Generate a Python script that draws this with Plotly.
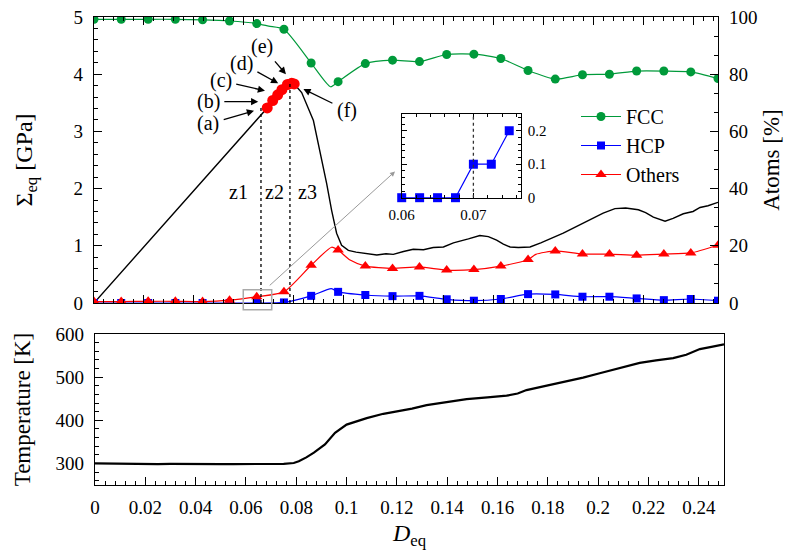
import plotly.graph_objects as go

# ---------------- data ----------------
# strain positions of the plotted symbols (every few data points)
D_MARK = [0.0, 0.0109, 0.0217, 0.0326, 0.0435, 0.0543, 0.0652, 0.0761, 0.0870, 0.0978,
          0.1087, 0.1196, 0.1304, 0.1413, 0.1522, 0.1630, 0.1739, 0.1848, 0.1957, 0.2065,
          0.2174, 0.2283, 0.2391, 0.2500]
FCC = [99.2, 99.2, 99.2, 99.2, 99.0, 98.6, 97.7, 95.7, 83.9, 77.4,
       83.7, 84.9, 84.4, 86.9, 87.0, 85.5, 81.3, 78.3, 79.8, 80.0,
       81.1, 81.1, 80.8, 78.5]
HCP = [0.0, 0.0, 0.0, 0.0, 0.0, 0.0, 0.0, 0.2, 2.5, 3.9,
       2.8, 2.4, 2.5, 1.3, 0.8, 1.4, 3.1, 3.0, 2.2, 2.2,
       1.6, 1.0, 1.4, 0.8]
OTHERS = [0.5, 0.5, 0.6, 0.6, 0.5, 1.0, 2.2, 3.9, 13.2, 18.5,
          12.9, 12.1, 12.6, 11.5, 11.7, 12.9, 15.2, 18.2, 17.1, 17.1,
          16.7, 17.1, 17.5, 20.2]
# additional points of the lines between the symbols
FCC_EXTRA_D = [0.0700, 0.0948]
FCC_EXTRA = [96.8, 75.6]
HCP_EXTRA_D = [0.0951]
HCP_EXTRA = [5.0]
OTH_EXTRA_D = [0.0952, 0.1026, 0.1770]
OTH_EXTRA = [19.5, 15.0, 17.0]

# equivalent stress [GPa]
STRESS_D = [0.0, 0.0694, 0.0716, 0.0736, 0.0753, 0.0775, 0.0792, 0.0802, 0.0832, 0.0879,
            0.0905, 0.0932, 0.0952, 0.0972, 0.0992, 0.1019, 0.1050, 0.1092, 0.1133, 0.1170,
            0.1199, 0.1240, 0.1279, 0.1320, 0.1359, 0.1400, 0.1440, 0.1500, 0.1546, 0.1580,
            0.1613, 0.1640, 0.1667, 0.1700, 0.1747, 0.1790, 0.1840, 0.1880, 0.1934, 0.2000,
            0.2040, 0.2087, 0.2130, 0.2181, 0.2210, 0.2241, 0.2288, 0.2320, 0.2361, 0.2400,
            0.2428, 0.2460, 0.2500]
STRESS = [0.0, 3.41, 3.54, 3.64, 3.73, 3.82, 3.84, 3.83, 3.68, 3.19,
          2.67, 2.09, 1.62, 1.22, 1.01, 0.92, 0.89, 0.87, 0.84, 0.86,
          0.85, 0.90, 0.94, 0.93, 0.97, 0.98, 1.05, 1.12, 1.18, 1.16,
          1.10, 1.03, 0.98, 0.97, 0.98, 1.05, 1.14, 1.22, 1.34, 1.48,
          1.57, 1.65, 1.66, 1.63, 1.58, 1.50, 1.43, 1.48, 1.56, 1.60,
          1.67, 1.70, 1.76]

# states (a)-(f)
STATE_D = [0.0694, 0.0716, 0.0736, 0.0753, 0.0775, 0.0792, 0.0802]
STATE_S = [3.41, 3.54, 3.64, 3.73, 3.82, 3.84, 3.83]
STATE_LABELS = ["(a)", "(b)", "(c)", "(d)", "(e)", "(f)"]

# zone boundaries and labels
Z_BOUND_D = [0.0669, 0.0785]
Z_BOUND_TOP = [3.41, 3.84]
Z_LABELS = ["z1", "z2", "z3"]
Z_LABEL_D = [0.0577, 0.0725, 0.0856]

# inset: HCP fraction around HCP onset
INSET_D = [0.060, 0.0625, 0.065, 0.0675, 0.070, 0.0725, 0.075]
INSET_HCP = [0.0, 0.0, 0.0, 0.0, 0.1, 0.1, 0.2]
INSET_ONSET = 0.070

# temperature [K]
TEMP_D = [0.0, 0.005, 0.01, 0.015, 0.02, 0.025, 0.03, 0.035, 0.04, 0.045, 0.05, 0.055,
          0.06, 0.065, 0.07, 0.075, 0.079, 0.081, 0.084, 0.087, 0.0914, 0.0954, 0.1,
          0.104, 0.108, 0.1146, 0.1205, 0.1260, 0.1318, 0.1400, 0.1477, 0.1560, 0.1636,
          0.1680, 0.1715, 0.1800, 0.1874, 0.1940, 0.2006, 0.2080, 0.2165, 0.2230, 0.2298,
          0.2350, 0.2404, 0.2450, 0.2500]
TEMP = [300.0, 299.5, 299.0, 299.5, 299.0, 298.5, 299.0, 298.5, 298.5, 299.0, 298.5, 298.5,
        298.5, 299.0, 298.5, 299.0, 301.0, 305.0, 314.0, 325.0, 344.0, 371.0, 390.0,
        398.0, 405.0, 415.0, 421.0, 427.0, 435.0, 442.0, 449.0, 453.0, 457.0,
        462.0, 470.0, 481.0, 490.0, 499.0, 509.0, 520.0, 533.0, 539.0, 544.0,
        552.0, 565.0, 570.0, 576.0]

# ---------------- layout geometry ----------------
# the page body has an 8px margin, so the figure is 8px smaller than the window
OFF = 8
FW, FH = 784, 542


def px_x(p):
    return (p - OFF) / FW


def px_y(p):
    return 1 - (p - OFF) / FH


TOP_X = [px_x(94), px_x(718)]
TOP_Y = [px_y(303), px_y(17)]
BOT_X = [px_x(95), px_x(724)]
BOT_Y = [px_y(485), px_y(334)]
INS_X = [px_x(401.7), px_x(520.7)]
INS_Y = [px_y(197.7), px_y(114)]

X_RANGE = [0, 0.25]
S_RANGE = [0, 5]
A_RANGE = [0, 100]


def d2paper(d):
    return TOP_X[0] + (d - X_RANGE[0]) / (X_RANGE[1] - X_RANGE[0]) * (TOP_X[1] - TOP_X[0])


def s2paper(s):
    return TOP_Y[0] + (s - S_RANGE[0]) / (S_RANGE[1] - S_RANGE[0]) * (TOP_Y[1] - TOP_Y[0])


GREEN = "#009a3a"
BLUE = "#0000ff"
RED = "#ff0000"
FONT = "Liberation Serif"


def merged(xs, ys, ex, ey):
    pts = sorted(list(zip(xs, ys)) + list(zip(ex, ey)))
    return [p[0] for p in pts], [p[1] for p in pts]


fig = go.Figure()

# black stress curve
fig.add_trace(go.Scatter(x=STRESS_D, y=STRESS, mode="lines", xaxis="x", yaxis="y",
                         line=dict(color="black", width=1.4), showlegend=False))
# state markers
fig.add_trace(go.Scatter(x=STATE_D, y=STATE_S, mode="markers", xaxis="x", yaxis="y",
                         marker=dict(color=RED, size=11, symbol="circle"), showlegend=False))

series = [
    ("FCC", FCC, FCC_EXTRA_D, FCC_EXTRA, GREEN, "circle", 9),
    ("HCP", HCP, HCP_EXTRA_D, HCP_EXTRA, BLUE, "square", 8),
    ("Others", OTHERS, OTH_EXTRA_D, OTH_EXTRA, RED, "triangle-up", 10),
]
for name, vals, exd, exv, col, sym, sz in series:
    lx, ly = merged(D_MARK, vals, exd, exv)
    fig.add_trace(go.Scatter(x=lx, y=ly, mode="lines", xaxis="x", yaxis="y2",
                             line=dict(color=col, width=1.2, shape="spline", smoothing=0.6),
                             showlegend=False))
    fig.add_trace(go.Scatter(x=D_MARK, y=vals, mode="markers", xaxis="x", yaxis="y2",
                             marker=dict(color=col, size=sz, symbol=sym), showlegend=False))
    fig.add_trace(go.Scatter(x=[None], y=[None], mode="lines+markers", xaxis="x", yaxis="y2",
                             name=name, line=dict(color=col, width=1.2),
                             marker=dict(color=col, size=sz, symbol=sym)))

# inset
fig.add_trace(go.Scatter(x=INSET_D, y=INSET_HCP, mode="lines+markers", xaxis="x3", yaxis="y4",
                         line=dict(color=BLUE, width=1.2),
                         marker=dict(color=BLUE, size=9, symbol="square"), showlegend=False,
                         cliponaxis=False))

# temperature
fig.add_trace(go.Scatter(x=TEMP_D, y=TEMP, mode="lines", xaxis="x2", yaxis="y3",
                         line=dict(color="black", width=2.2), showlegend=False))

common = dict(showline=True, linecolor="black", linewidth=1.3, ticks="inside",
              tickcolor="black", tickwidth=1.2, showgrid=False, zeroline=False,
              ticklabeloverflow="allow")

fig.update_layout(
    width=FW, height=FH, margin=dict(l=0, r=0, t=0, b=0),
    template="none", paper_bgcolor="white", plot_bgcolor="white",
    font=dict(family=FONT, size=19, color="black"),
    xaxis=dict(common, domain=TOP_X, range=X_RANGE, anchor="y", dtick=0.02, tick0=0,
               ticklen=8, mirror="ticks", showticklabels=False,
               minor=dict(dtick=0.004, ticklen=4, ticks="inside", tickcolor="black", tickwidth=1.2)),
    yaxis=dict(common, domain=TOP_Y, range=S_RANGE, anchor="x", dtick=1, tick0=0, ticklen=8,
               ticklabelstandoff=6,
               minor=dict(dtick=0.2, ticklen=4, ticks="inside", tickcolor="black", tickwidth=1.2),
               title=dict(text="Σ<sub>eq</sub> [GPa]", font=dict(size=24), standoff=34)),
    yaxis2=dict(common, overlaying="y", side="right", range=A_RANGE, anchor="x", dtick=20,
                tick0=0, ticklen=8, ticklabelstandoff=6,
                minor=dict(dtick=20 / 3, ticklen=4, ticks="inside", tickcolor="black", tickwidth=1.2),
                title=dict(text="Atoms [%]", font=dict(size=23), standoff=6)),
    xaxis2=dict(common, domain=BOT_X, range=X_RANGE, anchor="y3", dtick=0.02, tick0=0,
                ticklen=8, mirror=True, ticklabelstandoff=5,
                minor=dict(dtick=0.004, ticklen=4, ticks="inside", tickcolor="black", tickwidth=1.2),
                title=dict(text="<i>D</i><sub>eq</sub>", font=dict(size=24), standoff=16)),
    yaxis3=dict(common, domain=BOT_Y, range=[250, 600], anchor="x2", dtick=100, tick0=0,
                ticklen=8, mirror=True, ticklabelstandoff=6,
                minor=dict(dtick=20, ticklen=4, ticks="inside", tickcolor="black", tickwidth=1.2),
                title=dict(text="Temperature [K]", font=dict(size=23), standoff=18)),
    xaxis3=dict(common, domain=INS_X, range=[0.06, 0.0766], anchor="y4", dtick=0.01, tick0=0.06,
                ticklen=5, mirror="ticks", tickfont=dict(size=15), ticklabelstandoff=3,
                minor=dict(dtick=0.002, ticklen=3, ticks="inside", tickcolor="black", tickwidth=1)),
    yaxis4=dict(common, domain=INS_Y, range=[0, 0.25], anchor="x3", side="right", dtick=0.1,
                tick0=0, ticklen=5, mirror="ticks", tickfont=dict(size=15), ticklabelstandoff=3,
                minor=dict(dtick=0.02, ticklen=3, ticks="inside", tickcolor="black", tickwidth=1)),
    legend=dict(x=px_x(576), y=px_y(97), xanchor="left", yanchor="top",
                bgcolor="rgba(0,0,0,0)", font=dict(size=20), itemwidth=40,
                tracegroupgap=0),
)

shapes = []
for d, top in zip(Z_BOUND_D, Z_BOUND_TOP):
    shapes.append(dict(type="line", xref="x", yref="y", x0=d, x1=d, y0=0, y1=top,
                       line=dict(color="black", width=1.3, dash="dot")))
shapes.append(dict(type="line", xref="x3", yref="y4", x0=INSET_ONSET, x1=INSET_ONSET,
                   y0=0, y1=0.25, line=dict(color="#333333", width=1.3, dash="dot")))
# zoom box marking the inset region
BOX_D = [0.0598, 0.0712]
BOX_S = [-0.12, 0.23]
shapes.append(dict(type="rect", xref="paper", yref="paper",
                   x0=d2paper(BOX_D[0]), x1=d2paper(BOX_D[1]),
                   y0=s2paper(BOX_S[0]), y1=s2paper(BOX_S[1]),
                   line=dict(color="#aaaaaa", width=1.5)))
fig.update_layout(shapes=shapes)

ann = []
# labels (a)-(f), each with an arrow pointing at its state
LABEL_POS = [(0.0458, 3.13), (0.0458, 3.52), (0.0508, 3.89), (0.0592, 4.19), (0.0672, 4.49), (0.1012, 3.37)]
ARROW_HEAD = [(0.0641, 3.36), (0.0658, 3.52), (0.0685, 3.71), (0.0738, 3.84), (0.0769, 4.00), (0.0839, 3.74)]
for lab, (tx, ty), (hx, hy) in zip(STATE_LABELS, LABEL_POS, ARROW_HEAD):
    ann.append(dict(x=hx, y=hy, ax=tx, ay=ty, xref="x", yref="y", axref="x", ayref="y",
                    text=lab, showarrow=True, arrowhead=2, arrowsize=1.1, arrowwidth=1.3,
                    arrowcolor="black", standoff=0, startstandoff=3,
                    font=dict(size=20, family=FONT)))
for lab, d in zip(Z_LABELS, Z_LABEL_D):
    ann.append(dict(x=d, y=1.94, xref="x", yref="y", text=lab, showarrow=False,
                    font=dict(size=20, family=FONT)))
# grey arrow from zoom box to inset
ann.append(dict(x=0.1206, y=2.30, ax=0.0698, ay=0.284, xref="x", yref="y", axref="x", ayref="y",
                text="", showarrow=True, arrowhead=2, arrowsize=1.0, arrowwidth=1.0,
                arrowcolor="#999999", standoff=0, startstandoff=0))
fig.update_layout(annotations=ann)

fig.write_html("out.html")
